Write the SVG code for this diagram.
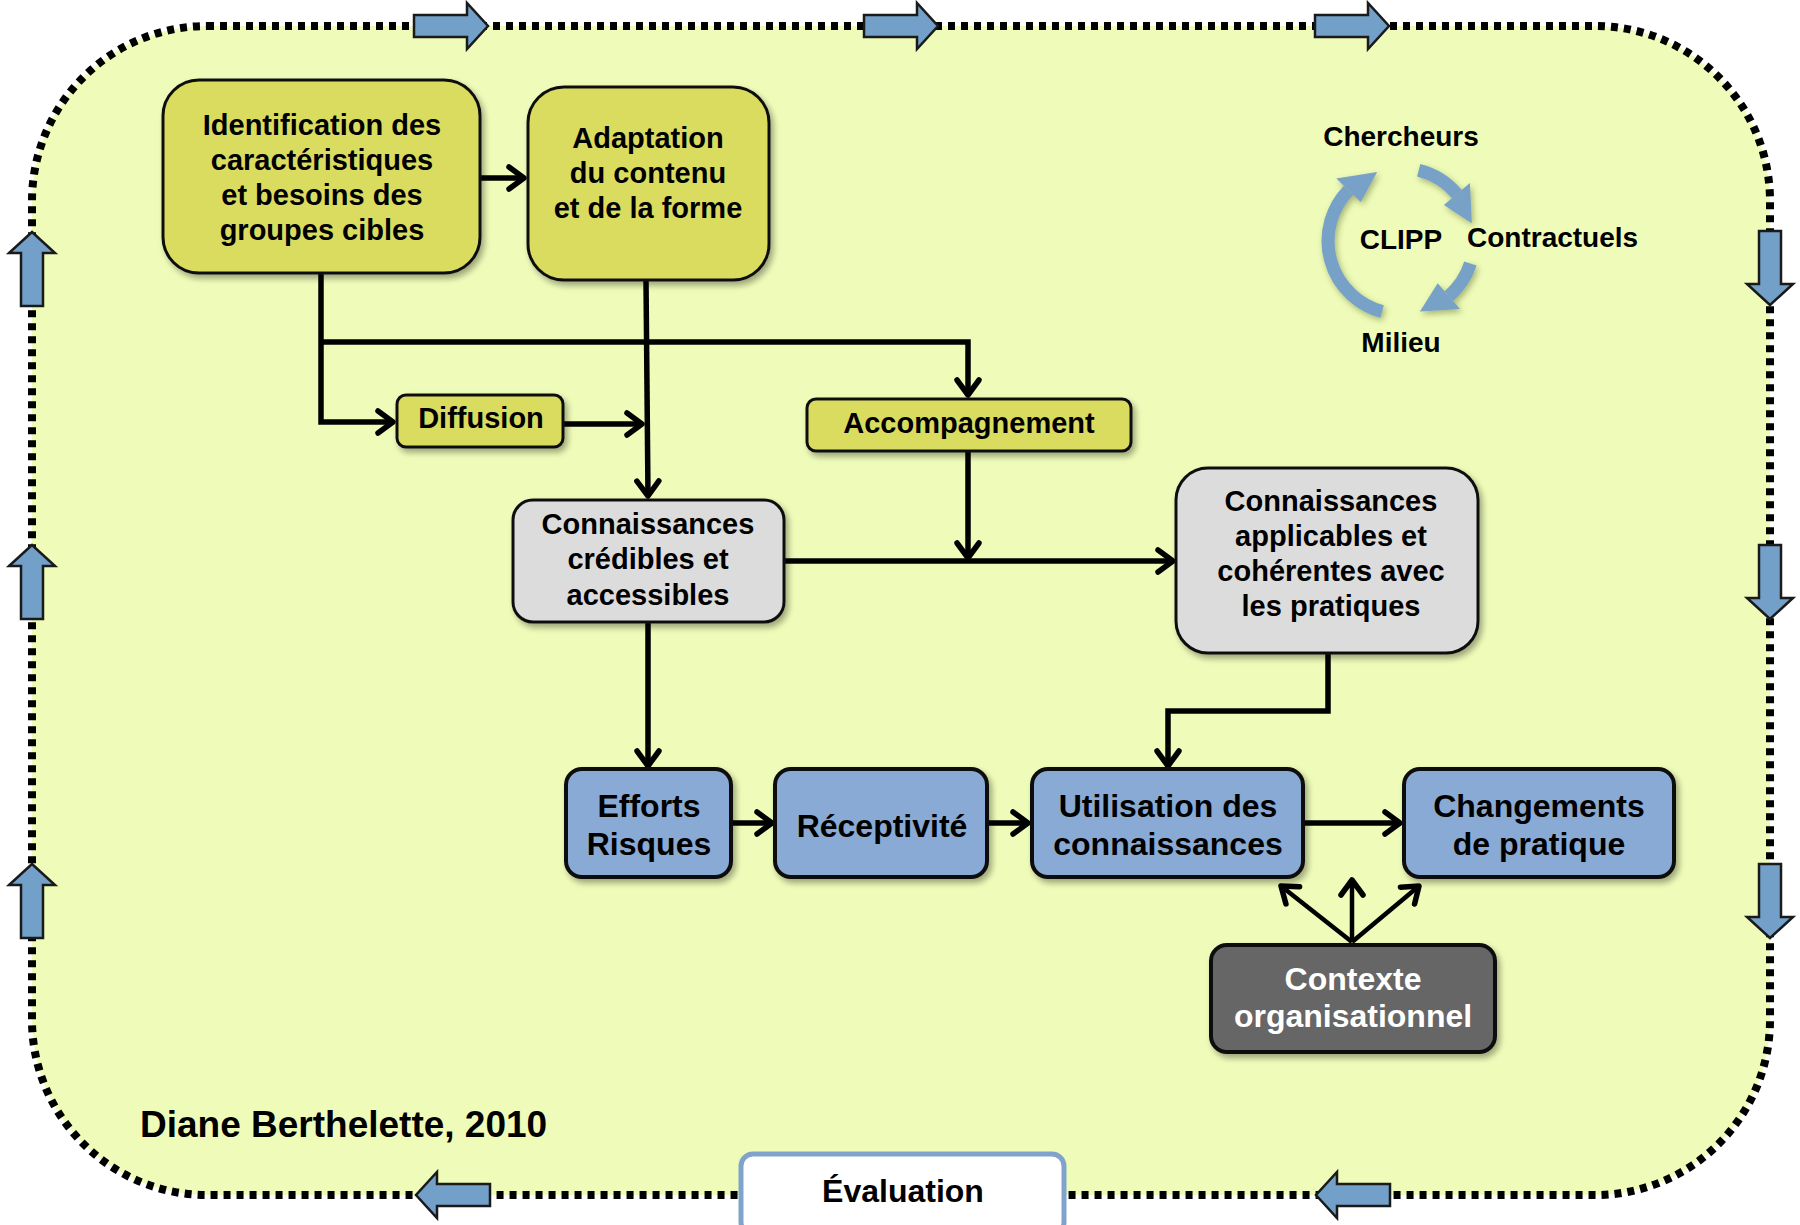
<svg xmlns="http://www.w3.org/2000/svg" width="1800" height="1225" viewBox="0 0 1800 1225">
<style>
text{font-family:"Liberation Sans",Arial,sans-serif;font-weight:bold;text-anchor:middle;fill:#000}
.t29{font-size:29px}
.t32{font-size:32px}
.t28{font-size:28px}
.yel{fill:#D9DC5E;stroke:#111;stroke-width:3}
.gry{fill:#DCDCDC;stroke:#111;stroke-width:3}
.blu{fill:#88AAD4;stroke:#111;stroke-width:4}
.drk{fill:#666666;stroke:#111;stroke-width:4}
.con{fill:none;stroke:#000;stroke-width:5.5;marker-end:url(#chev)}
.con4{fill:none;stroke:#000;stroke-width:4.5;marker-end:url(#chev)}
.barrow{fill:#72A0C8;stroke:#1a1a1a;stroke-width:2.5;stroke-linejoin:miter}
.cyc{fill:none;stroke:#78A1C8;stroke-width:13}
.cych{fill:#78A1C8}
</style>
<defs>
<marker id="chev" viewBox="0 0 22 28" refX="18" refY="14" markerWidth="22" markerHeight="28" markerUnits="userSpaceOnUse" orient="auto">
<path d="M3,3 L18,14 L3,25" fill="none" stroke="#000" stroke-width="5.5" stroke-linecap="round" stroke-linejoin="round"/>
</marker>
<filter id="sh" x="-20%" y="-20%" width="140%" height="150%">
<feDropShadow dx="3" dy="4" stdDeviation="3" flood-color="#000" flood-opacity="0.35"/>
</filter>
<filter id="sh2" x="-30%" y="-30%" width="160%" height="160%">
<feDropShadow dx="2" dy="3" stdDeviation="3" flood-color="#4a5a20" flood-opacity="0.45"/>
</filter>
<path id="ba" class="barrow" d="M-37,-11 H16 V-23 L37,0 L16,23 V11 H-37 Z"/>
</defs>

<g id="frame">
<rect x="32" y="26" width="1738" height="1169" rx="175" ry="175" fill="#EFFCB9" stroke="#000" stroke-width="8" stroke-dasharray="7 6"/>
<use href="#ba" transform="translate(451,26)"/>
<use href="#ba" transform="translate(901,26)"/>
<use href="#ba" transform="translate(1352,26)"/>
<use href="#ba" transform="translate(32,269) rotate(-90)"/>
<use href="#ba" transform="translate(32,582) rotate(-90)"/>
<use href="#ba" transform="translate(32,901) rotate(-90)"/>
<use href="#ba" transform="translate(1770,268) rotate(90)"/>
<use href="#ba" transform="translate(1770,582) rotate(90)"/>
<use href="#ba" transform="translate(1770,901) rotate(90)"/>
<use href="#ba" transform="translate(453,1195) rotate(180)"/>
<use href="#ba" transform="translate(1353,1195) rotate(180)"/>
</g>

<g id="connectors">
<path class="con" d="M480,178 H524"/>
<path class="con" d="M321,273 V422 H393"/>
<path class="con" d="M321,342 H968 V395"/>
<path class="con" d="M646,280 L648,496"/>
<path class="con" d="M563,424 H642"/>
<path class="con" d="M968,451 V558"/>
<path class="con" d="M784,561 H1173"/>
<path class="con" d="M648,622 V766"/>
<path class="con" d="M1328,653 V711 H1168 V766"/>
<path class="con" d="M731,823 H772"/>
<path class="con" d="M987,823 H1028"/>
<path class="con" d="M1303,823 H1400"/>
<path class="con4" d="M1352,942 L1281,886"/>
<path class="con4" d="M1352,942 V880"/>
<path class="con4" d="M1352,942 L1419,886"/>
</g>

<g id="n-identification">
<rect class="yel" filter="url(#sh)" x="163" y="80" width="317" height="193" rx="36"/>
<text class="t29" x="322" y="135">Identification des</text>
<text class="t29" x="322" y="170">caractéristiques</text>
<text class="t29" x="322" y="205">et besoins des</text>
<text class="t29" x="322" y="240">groupes cibles</text>
</g>
<g id="n-adaptation">
<rect class="yel" filter="url(#sh)" x="528" y="87" width="241" height="193" rx="36"/>
<text class="t29" x="648" y="148">Adaptation</text>
<text class="t29" x="648" y="183">du contenu</text>
<text class="t29" x="648" y="218">et de la forme</text>
</g>
<g id="n-diffusion">
<rect class="yel" filter="url(#sh)" x="397" y="395" width="166" height="52" rx="9"/>
<text class="t29" x="481" y="428">Diffusion</text>
</g>
<g id="n-accompagnement">
<rect class="yel" filter="url(#sh)" x="807" y="399" width="324" height="52" rx="9"/>
<text class="t29" x="969" y="433">Accompagnement</text>
</g>
<g id="n-credibles">
<rect class="gry" filter="url(#sh)" x="513" y="500" width="271" height="122" rx="20"/>
<text class="t29" x="648" y="534">Connaissances</text>
<text class="t29" x="648" y="569">crédibles et</text>
<text class="t29" x="648" y="605">accessibles</text>
</g>
<g id="n-applicables">
<rect class="gry" filter="url(#sh)" x="1176" y="468" width="302" height="185" rx="32"/>
<text class="t29" x="1331" y="511">Connaissances</text>
<text class="t29" x="1331" y="546">applicables et</text>
<text class="t29" x="1331" y="581">cohérentes avec</text>
<text class="t29" x="1331" y="616">les pratiques</text>
</g>
<g id="n-efforts">
<rect class="blu" filter="url(#sh)" x="566" y="769" width="165" height="108" rx="16"/>
<text class="t32" x="649" y="817">Efforts</text>
<text class="t32" x="649" y="855">Risques</text>
</g>
<g id="n-receptivite">
<rect class="blu" filter="url(#sh)" x="775" y="769" width="212" height="108" rx="16"/>
<text class="t32" x="882" y="837">Réceptivité</text>
</g>
<g id="n-utilisation">
<rect class="blu" filter="url(#sh)" x="1032" y="769" width="271" height="108" rx="16"/>
<text class="t32" x="1168" y="817">Utilisation des</text>
<text class="t32" x="1168" y="855">connaissances</text>
</g>
<g id="n-changements">
<rect class="blu" filter="url(#sh)" x="1404" y="769" width="270" height="108" rx="16"/>
<text class="t32" x="1539" y="817">Changements</text>
<text class="t32" x="1539" y="855">de pratique</text>
</g>
<g id="n-contexte">
<rect class="drk" filter="url(#sh)" x="1211" y="945" width="284" height="107" rx="16"/>
<text class="t32" x="1353" y="990" style="fill:#fff">Contexte</text>
<text class="t32" x="1353" y="1027" style="fill:#fff">organisationnel</text>
</g>
<g id="n-evaluation">
<rect x="741" y="1154" width="323" height="80" rx="12" fill="#fff" stroke="#7FA3CC" stroke-width="5"/>
<text class="t32" x="903" y="1202">Évaluation</text>
</g>

<g id="clipp">
<g filter="url(#sh2)">
<path class="cyc" d="M1418.7,170.2 A73,73 0 0 1 1456.9,194.1"/>
<polygon class="cych" points="1443.9,205 1469.9,183.1 1471.8,223.3"/>
<path class="cyc" d="M1470.4,263.6 A73,73 0 0 1 1448.9,296.1"/>
<polygon class="cych" points="1460,308.9 1437.7,283.3 1419.9,311.5"/>
<path class="cyc" d="M1382.1,311.5 A73,73 0 0 1 1348.5,190.3"/>
<polygon class="cych" points="1336.3,178.5 1360.7,202.1 1377.2,172"/>
</g>
<text class="t28" x="1401" y="146">Chercheurs</text>
<text class="t28" x="1401" y="249">CLIPP</text>
<text class="t28" x="1467" y="247" style="text-anchor:start">Contractuels</text>
<text class="t28" x="1401" y="352">Milieu</text>
</g>

<g id="credit">
<text x="140" y="1137" style="font-size:37px;text-anchor:start">Diane Berthelette, 2010</text>
</g>
</svg>
